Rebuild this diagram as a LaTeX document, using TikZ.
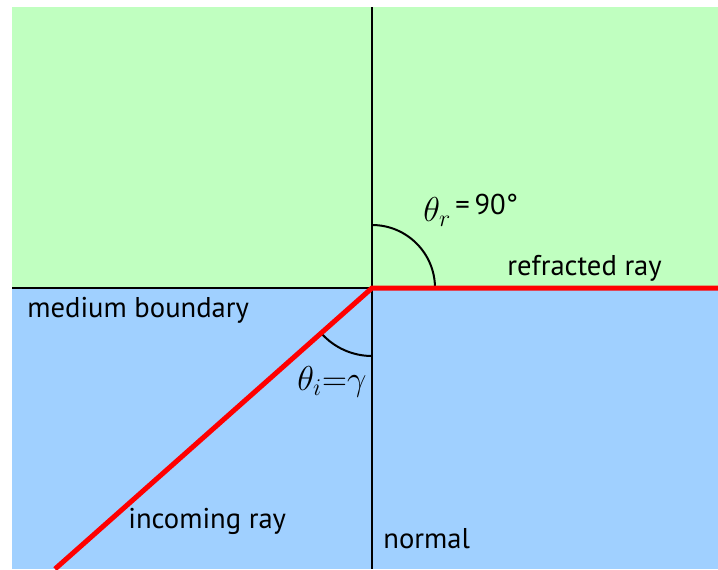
\documentclass[tikz,border=0pt]{standalone}
\usepackage{fontspec}
\setmainfont{PT Sans}
\definecolor{upper}{RGB}{192,255,192}
\definecolor{lower}{RGB}{160,208,255}

\begin{document}
\begin{tikzpicture}[x=0.5pt, y=-0.5pt,
    every node/.style={font=\fontsize{14.3}{16}\selectfont, inner sep=0pt, anchor=base west},
    mathlbl/.style={font=\fontsize{17}{19}\selectfont},
    ray/.style={red, line width=2.5pt},
    angarc/.style={black, line width=1pt}]
    \useasboundingbox (0,0) rectangle (718,569);

    % the two media
    \fill[upper] (12,7) rectangle (718,288);
    \fill[lower] (12,288) rectangle (718,569);

    \coordinate (hit) at (372,288);
    \coordinate (src) at (55,569);
    \coordinate (out) at (718,288);
    \coordinate (left) at (12,288);
    \coordinate (top) at (372,7);
    \coordinate (bottom) at (372,569);

    \draw[line width=1.2pt] (left) -- (hit);
    \draw[line width=1.2pt] (top) -- (bottom);

    % angles
    \draw[angarc] (hit) ++(-90:63) arc[start angle=-90, end angle=0, radius=63];
    \draw[angarc] (hit) ++(90:68) arc[start angle=90, end angle=138.4, radius=68];

    % the ray
    \draw[ray] (src) -- (hit) -- (out);

    \node[mathlbl] (thr) at (423,221) {$\theta_r$};
    \node (thrval) at (455,214) {=\,90°};
    \node[mathlbl] (thi) at (297,390) {$\theta_i{=}\gamma$};

    \node (boundary) at (27,317) {medium boundary};
    \node (refr) at (507,275) {refracted ray};
    \node (inc) at (128,528) {incoming ray};
    \node (norm) at (383,548) {normal};
\end{tikzpicture}
\end{document}
